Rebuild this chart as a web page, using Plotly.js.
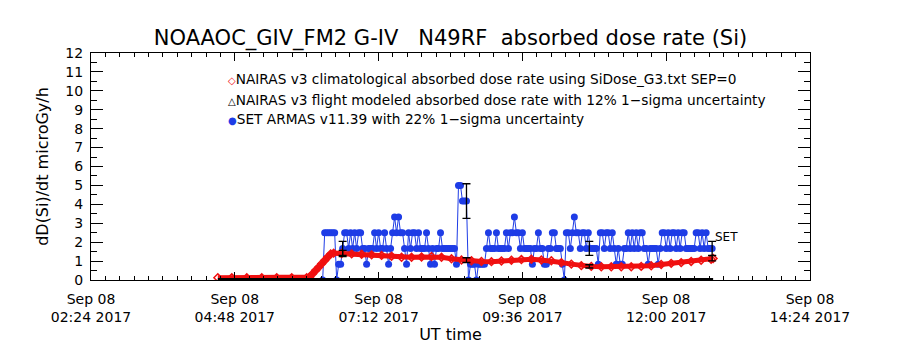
<!DOCTYPE html>
<html><head><meta charset="utf-8">
<script src="https://cdn.plot.ly/plotly-3.0.1.min.js"></script>
<style>html,body{margin:0;padding:0;background:#fff;}#chart{width:900px;height:350px;}</style>
</head><body><div id="chart"></div>
<script>
const DAY = '2017-09-08 ';
const tickTimes = ['02:24','04:48','07:12','09:36','12:00','14:24'];
const tickLabels = ['Sep 08<br>02:24 2017','Sep 08<br>04:48 2017','Sep 08<br>07:12 2017','Sep 08<br>09:36 2017','Sep 08<br>12:00 2017','Sep 08<br>14:24 2017'];

// NAIRAS v3 climatological absorbed dose rate (red diamonds)
const climTimes = ['04:31','04:45','05:00','05:15','05:30','05:45','06:00','06:03','06:06','06:09','06:12','06:15','06:18','06:21','06:24','06:27',
  '06:35','06:45','06:55','07:05','07:15','07:25','07:35','07:45','07:55','08:05','08:15','08:25','08:35','08:45','08:55',
  '09:05','09:15','09:25','09:35','09:45','09:55','10:05','10:15','10:25','10:35','10:45','10:55','11:05','11:15','11:25',
  '11:35','11:45','11:55','12:05','12:15','12:25','12:35','12:45','12:47'];
const climValues = [0.12,0.12,0.12,0.12,0.12,0.12,0.12,0.16,0.33,0.51,0.68,0.86,1.03,1.21,1.38,1.42,
  1.40,1.38,1.36,1.33,1.30,1.26,1.20,1.20,1.22,1.24,1.20,1.12,1.06,1.02,0.98,
  0.97,1.00,1.04,1.08,1.10,1.06,1.02,0.92,0.84,0.76,0.72,0.70,0.70,0.70,0.70,
  0.72,0.75,0.82,0.88,0.92,0.98,1.04,1.10,1.14];

// NAIRAS v3 flight modeled (black triangles)
const flightTimes = ['04:31','05:00','06:00','07:00','08:00','09:00','10:00','11:00','12:00','12:47'];
const flightValues = [0.03,0.03,0.03,0.03,0.03,0.03,0.03,0.03,0.03,0.03];

// SET ARMAS v11.39 (blue), sampled every 2 minutes from 06:16
const armasStart = '06:16';
const armasStepMin = 2;
const armasValues = [
  0,2.5,2.5,2.5,2.5,2.5,2.5,0,0.83,0.83,
  1.67,2.5,2.5,1.67,2.5,1.67,2.5,1.67,2.5,2.5,
  1.67,1.67,0.83,1.67,1.67,1.67,2.5,1.67,2.5,1.67,
  1.67,2.5,1.67,0.83,1.67,2.5,3.33,2.5,3.33,2.5,
  2.5,1.67,0.83,2.5,1.67,2.5,2.5,1.67,2.5,1.67,
  1.67,1.67,2.5,1.67,0.83,1.67,0.83,1.67,1.67,2.5,
  1.67,1.67,1.67,1.67,1.67,1.67,1.67,0.83,5.0,5.0,
  4.17,4.17,4.17,0,0.83,0.83,0.83,0,0.83,0.83,
  0.83,0.83,1.67,2.5,1.67,1.67,1.67,2.5,1.67,1.67,
  1.67,1.67,2.5,1.67,2.5,2.5,3.33,2.5,2.5,1.67,
  2.5,1.67,1.67,1.67,1.67,0.83,1.67,1.67,2.5,1.67,
  1.67,0.83,0.83,1.67,1.67,2.5,2.5,1.67,1.67,1.67,
  0.83,0,2.5,2.5,1.67,2.5,3.33,2.5,2.5,1.67,
  2.5,2.5,1.67,2.5,1.67,1.67,1.67,1.67,0.83,2.5,
  2.5,1.67,2.5,2.5,1.67,2.5,1.67,0.83,1.67,0.83,
  0.83,1.67,1.67,2.5,1.67,2.5,1.67,2.5,1.67,2.5,
  2.5,1.67,1.67,0.83,1.67,1.67,1.67,1.67,0.83,1.67,
  2.5,2.5,1.67,2.5,1.67,2.5,2.5,1.67,2.5,1.67,
  2.5,2.5,1.67,1.67,1.67,1.67,1.67,2.5,2.5,1.67,
  2.5,1.67,2.5,1.67,1.67,1.67];

// 1-sigma error bars
const errTimes = ['06:36','08:40','10:43','12:46'];
const errArmasValues = [1.67,4.17,1.67,1.67];
const errArmasPct = 22;
const errNairasValues = [1.40,1.05,0.72,1.15];
const errNairasPct = 12;

const legendTexts = [
  'NAIRAS v3 climatological absorbed dose rate using SiDose_G3.txt SEP=0',
  'NAIRAS v3 flight modeled absorbed dose rate with 12% 1\u2212sigma uncertainty',
  'SET ARMAS v11.39 with 22% 1\u2212sigma uncertainty'
];

function ts(hm){ return DAY + hm; }
function pad(n){ return (n<10?'0':'')+n; }
function armasTimes(){
  const [h,m] = armasStart.split(':').map(Number);
  const base = h*60+m;
  return armasValues.map((v,i)=>{ const t = base + i*armasStepMin; return DAY + pad(Math.floor(t/60)) + ':' + pad(t%60); });
}

const RED = '#f01010', BLUE = '#1e3ce6';
const FONT = 'DejaVu Sans, Liberation Sans, sans-serif';

const traces = [
  {x: armasTimes(), y: armasValues, mode:'lines+markers', line:{color:BLUE,width:1}, marker:{symbol:'circle',size:7,color:BLUE}, cliponaxis:true},
  {x: climTimes.map(ts), y: climValues, mode:'lines+markers', line:{color:RED,width:5}, marker:{symbol:'diamond-open',size:6,color:RED,line:{width:1.5}}},
  {x: flightTimes.map(ts), y: flightValues, mode:'lines', line:{color:'black',width:3}, cliponaxis:false},
  {x: errTimes.map(ts), y: errArmasValues, mode:'markers', marker:{size:1,color:'rgba(0,0,0,0)'}, error_y:{type:'percent',value:errArmasPct,color:'black',thickness:1.3,width:4}},
  {x: errTimes.map(ts), y: errNairasValues, mode:'markers', marker:{size:1,color:'rgba(0,0,0,0)'}, error_y:{type:'percent',value:errNairasPct,color:'black',thickness:1.3,width:4}}
];

const L = 91, R = 90, T = 53, B = 70;
const plotH = 350 - T - B;
function py(pix){ return (350 - B - pix)/plotH; }

const legendY = [79, 100, 119];
const legendSym = ['<span style="color:'+RED+';font-size:10px">\u25C7</span>',
                   '<span style="color:black;font-size:10px">\u25B3</span>',
                   '<span style="color:'+BLUE+';font-size:10px">\u25CF</span>'];
const annotations = legendTexts.map((t,i)=>({
  xref:'paper', yref:'paper', x:(226-L)/(900-L-R), y:py(legendY[i]), xanchor:'left', yanchor:'middle',
  text: legendSym[i] + t, showarrow:false, font:{family:FONT,size:13.7,color:'black'}
}));
annotations.push({xref:'x', yref:'y', x:ts('12:47'), y:2.25, xanchor:'left', yanchor:'middle', text:'SET', showarrow:false, font:{family:FONT,size:12,color:'black'}});

const layout = {
  width:900, height:350,
  margin:{l:L, r:R, t:T, b:B},
  paper_bgcolor:'white', plot_bgcolor:'white',
  showlegend:false,
  font:{family:FONT, color:'black'},
  title:{text:'NOAAOC_GIV_FM2 G-IV\u00a0\u00a0\u00a0N49RF\u00a0\u00a0absorbed dose rate (Si)', font:{family:FONT,size:21,color:'black'}, x:0.5, xref:'paper', y:1-38/350, yanchor:'middle'},
  xaxis:{type:'date', range:[ts('02:24'), ts('14:24')], tickmode:'array', tickvals:tickTimes.map(ts), ticktext:tickLabels,
    ticks:'inside', ticklen:8, tickcolor:'black', showline:true, linecolor:'black', linewidth:1, mirror:'allticks',
    showgrid:false, zeroline:false, tickfont:{family:FONT,size:14,color:'black'}, ticklabelstandoff:6,
    minor:{ticks:'inside', ticklen:4, dtick:864000, tick0:ts('02:24'), tickcolor:'black', showgrid:false},
    title:{text:'UT time', font:{family:FONT,size:16,color:'black'}, standoff:4}},
  yaxis:{range:[0,12], tickmode:'linear', tick0:0, dtick:1, ticks:'inside', ticklen:12, tickcolor:'black',
    showline:true, linecolor:'black', linewidth:1, mirror:'allticks', showgrid:false, zeroline:false,
    tickfont:{family:FONT,size:14,color:'black'}, ticklabelstandoff:4,
    minor:{ticks:'inside', ticklen:6, dtick:0.5, tick0:0, tickcolor:'black', showgrid:false},
    title:{text:'dD(Si)/dt microGy/h', font:{family:FONT,size:16,color:'black'}, standoff:12}},
  annotations: annotations
};

Plotly.newPlot('chart', traces, layout, {displayModeBar:false, staticPlot:true});
</script>
</body></html>
